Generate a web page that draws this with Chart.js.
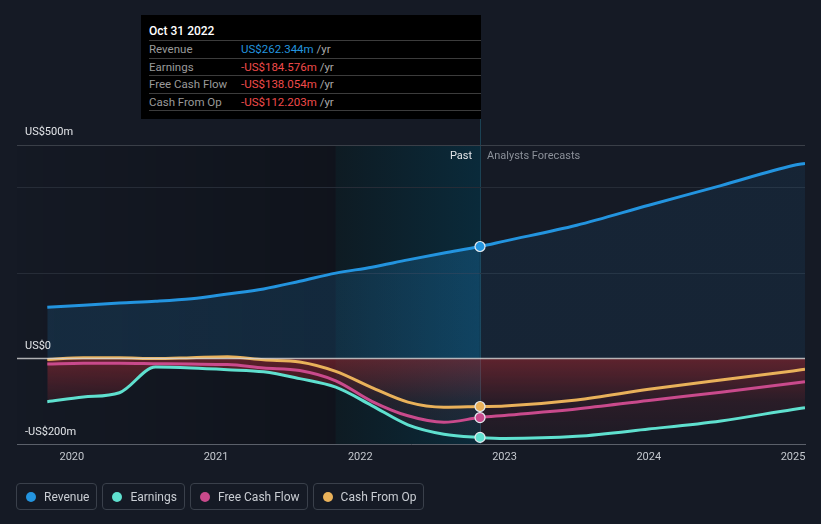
<!DOCTYPE html>
<html>
<head>
<meta charset="utf-8">
<script src="https://cdn.jsdelivr.net/npm/chart.js@4.4.0/dist/chart.umd.min.js"></script>
<style>
  body { margin: 0; background: #151a25; font-family: Roboto, "Noto Sans", sans-serif; }
  #wrap { position: relative; width: 821px; height: 524px; overflow: hidden; }
  #chart { position: absolute; left: 0; top: 0; }
  #tip { position: absolute; left: 141px; top: 15px; width: 340px; height: 104px; background: #000; box-sizing: border-box; padding-left: 8px; }
  #tip .title { height: 26px; box-sizing: border-box; padding-top: 8px; font-size: 12px; line-height: 16px; color: #fff; font-weight: 500; border-bottom: 1px solid #3c3c3c; }
  #tip .row { height: 17.5px; box-sizing: border-box; border-bottom: 1px solid #3c3c3c; font-size: 11.5px; line-height: 17px; color: #9a9a9a; position: relative; }
  #tip .row .v { position: absolute; left: 92px; top: 0; }
  #tip .unit { color: #aaa; }
  #legend { position: absolute; left: 16px; top: 483px; display: flex; gap: 5px; }
  .item { display: flex; align-items: center; height: 27px; box-sizing: border-box; border: 1px solid #3a404b; border-radius: 4px; padding: 0 7px 0 9px; font-size: 12px; color: #c9cdd3; }
  .dot { width: 10px; height: 10px; border-radius: 50%; margin-right: 8px; }
</style>
</head>
<body>
<div id="wrap">
  <canvas id="chart" width="821" height="524"></canvas>
  <div id="tip"></div>
  <div id="legend"></div>
</div>
<script>
// time axis, decimal years
const pastYears = [2019.83, 2020.08, 2020.33, 2020.58, 2020.83, 2021.08, 2021.33, 2021.58, 2021.83, 2022.08, 2022.33, 2022.58, 2022.83];
const foreYears = [2023.0, 2023.5, 2024.0, 2024.5, 2025.0, 2025.083];

// US$ millions
const revenuePast = [120, 125, 130, 134, 140, 151, 163, 181, 200, 214, 231, 247, 262.344];
const revenueFore = [275, 312, 359, 405, 452, 457];
const earningsPast = [-101, -90, -80, -20, -22, -26, -31, -47, -67, -110, -155, -177, -184.576];
const earningsFore = [-187, -182, -165, -146, -119, -115];
const fcfPast = [-13, -11, -11, -12, -13, -14, -22, -28, -52, -100, -134, -149, -138.054];
const fcfFore = [-133, -118, -98, -79, -58, -54];
const cfoPast = [-2, 2, 2, 0, 2, 4, -3, -8, -30, -68, -102, -114, -112.203];
const cfoFore = [-111, -97, -72, -50, -29, -25];

const yearTicks = [2020, 2021, 2022, 2023, 2024, 2025];
const seriesNames = ['Revenue', 'Earnings', 'Free Cash Flow', 'Cash From Op'];
const seriesColors = ['#2394df', '#5fe0cf', '#c94a8c', '#e9b15a'];
const tipDate = 'Oct 31 2022';
const tipValues = ['US$262.344m', '-US$184.576m', '-US$138.054m', '-US$112.203m'];
const bandStart = 2021.83;
const nowYear = 2022.83;

const years = pastYears.concat(foreYears);
const toXY = (past, fore) => past.concat(fore).map((v, i) => ({ x: years[i], y: v }));
const nowIndex = pastYears.length - 1;

// tooltip box
const tip = document.getElementById('tip');
let html = '<div class="title">' + tipDate + '</div>';
seriesNames.forEach((n, i) => {
  const col = i === 0 ? '#2394df' : '#f04b4b';
  html += '<div class="row">' + n + '<span class="v"><span style="color:' + col + '">' + tipValues[i] + '</span> <span class="unit">/yr</span></span></div>';
});
tip.innerHTML = html;

// legend
const legend = document.getElementById('legend');
seriesNames.forEach((n, i) => {
  const d = document.createElement('div');
  d.className = 'item';
  d.innerHTML = '<span class="dot" style="background:' + seriesColors[i] + '"></span>' + n;
  legend.appendChild(d);
});

function revenueFill(ctx) {
  const chart = ctx.chart;
  const area = chart.chartArea;
  if (!area) return 'rgba(35,148,223,0.12)';
  const xs = chart.scales.x;
  const g = chart.ctx.createLinearGradient(area.left, 0, area.right, 0);
  const w = area.right - area.left;
  const b = (xs.getPixelForValue(bandStart) - area.left) / w;
  const n = (xs.getPixelForValue(nowYear) - area.left) / w;
  g.addColorStop(0, 'rgba(35,148,223,0.15)');
  g.addColorStop(b, 'rgba(35,148,223,0.17)');
  g.addColorStop(n - 0.001, 'rgba(35,148,223,0.24)');
  g.addColorStop(n, 'rgba(35,148,223,0.09)');
  g.addColorStop(1, 'rgba(35,148,223,0.09)');
  return g;
}

function lossFill(ctx) {
  const chart = ctx.chart;
  const area = chart.chartArea;
  if (!area) return 'rgba(215,50,60,0.2)';
  const ys = chart.scales.y;
  const y0 = ys.getPixelForValue(0);
  const y2 = ys.getPixelForValue(-200);
  const g = chart.ctx.createLinearGradient(0, y0, 0, y2);
  g.addColorStop(0, 'rgba(215,50,60,0.38)');
  g.addColorStop(0.5, 'rgba(215,50,60,0.11)');
  g.addColorStop(1, 'rgba(215,50,60,0.04)');
  return g;
}

const regions = {
  id: 'regions',
  beforeDraw(chart) {
    const { ctx, chartArea: a, scales: { x } } = chart;
    const xb = x.getPixelForValue(bandStart);
    const xn = x.getPixelForValue(nowYear);
    ctx.save();
    let g = ctx.createLinearGradient(a.left, 0, xb, 0);
    g.addColorStop(0, 'rgba(0,0,0,0.02)');
    g.addColorStop(1, 'rgba(0,0,0,0.24)');
    ctx.fillStyle = g;
    ctx.fillRect(a.left, a.top, xb - a.left, a.bottom - a.top);
    g = ctx.createLinearGradient(xb, 0, xn, 0);
    g.addColorStop(0, '#0e1b23');
    g.addColorStop(1, '#0a2a3a');
    ctx.fillStyle = g;
    ctx.fillRect(xb, a.top, xn - xb, a.bottom - a.top);
    ctx.strokeStyle = '#1c4456';
    ctx.lineWidth = 1;
    ctx.beginPath();
    ctx.moveTo(xn + 0.5, 119);
    ctx.lineTo(xn + 0.5, a.bottom);
    ctx.stroke();
    ctx.restore();
  },
  afterDatasetsDraw(chart) {
    const { ctx, chartArea: a, scales: { x, y } } = chart;
    const xn = x.getPixelForValue(nowYear);
    const y0 = y.getPixelForValue(0);
    ctx.save();
    ctx.strokeStyle = 'rgba(215,215,215,0.8)';
    ctx.lineWidth = 1.5;
    ctx.beginPath();
    ctx.moveTo(a.left, y0);
    ctx.lineTo(a.right, y0);
    ctx.stroke();
    ctx.font = '11px Roboto';
    ctx.textBaseline = 'middle';
    ctx.fillStyle = '#e2e4e8';
    ctx.fillText('US$500m', 25, y.getPixelForValue(500) - 13);
    ctx.fillText('US$0', 25, y0 - 12);
    ctx.fillText('-US$200m', 25, y.getPixelForValue(-200) - 12);
    ctx.textAlign = 'right';
    ctx.fillText('Past', xn - 8, a.top + 11);
    ctx.textAlign = 'left';
    ctx.fillStyle = '#8b9099';
    ctx.fillText('Analysts Forecasts', xn + 7, a.top + 11);
    ctx.restore();
  }
};

const datasets = [
  { data: toXY(revenuePast, revenueFore), fill: 'origin', backgroundColor: revenueFill },
  { data: toXY(earningsPast, earningsFore), fill: 'origin', backgroundColor: lossFill },
  { data: toXY(fcfPast, fcfFore), fill: false },
  { data: toXY(cfoPast, cfoFore), fill: false }
].map((d, i) => Object.assign(d, {
  label: seriesNames[i],
  borderColor: seriesColors[i],
  borderWidth: 3,
  cubicInterpolationMode: 'monotone',
  pointRadius: ctx => ctx.dataIndex === nowIndex ? 5 : 0,
  pointBackgroundColor: seriesColors[i],
  pointBorderColor: '#e6ecf2',
  pointBorderWidth: 1.2
}));

new Chart(document.getElementById('chart'), {
  type: 'line',
  data: { datasets },
  plugins: [regions],
  options: {
    responsive: false,
    animation: false,
    devicePixelRatio: 1,
    layout: { padding: { top: 145, right: 16, left: 0, bottom: 0 } },
    plugins: {
      legend: { display: false },
      tooltip: { enabled: false },
      filler: { drawTime: 'beforeDatasetsDraw' }
    },
    scales: {
      x: {
        type: 'linear',
        min: 2019.62,
        max: 2025.083,
        afterBuildTicks: s => { s.ticks = yearTicks.map(v => ({ value: v })); },
        afterFit: s => { s.height = 80; },
        ticks: { autoSkip: false, maxRotation: 0, padding: 7, color: '#c4c8ce', font: { family: 'Roboto', size: 11 }, callback: v => String(v) },
        grid: { display: false, drawTicks: false },
        border: { display: true, color: '#5b606a', width: 1 }
      },
      y: {
        min: -200,
        max: 500,
        afterFit: s => { s.width = 17; },
        ticks: { display: false, stepSize: 100 },
        grid: {
          drawTicks: false,
          color: c => c.tick.value === 500 ? '#3a3f48' : (c.tick.value === 400 || c.tick.value === 200) ? '#262c37' : 'rgba(0,0,0,0)'
        },
        border: { display: false }
      }
    }
  }
});
</script>
</body>
</html>
